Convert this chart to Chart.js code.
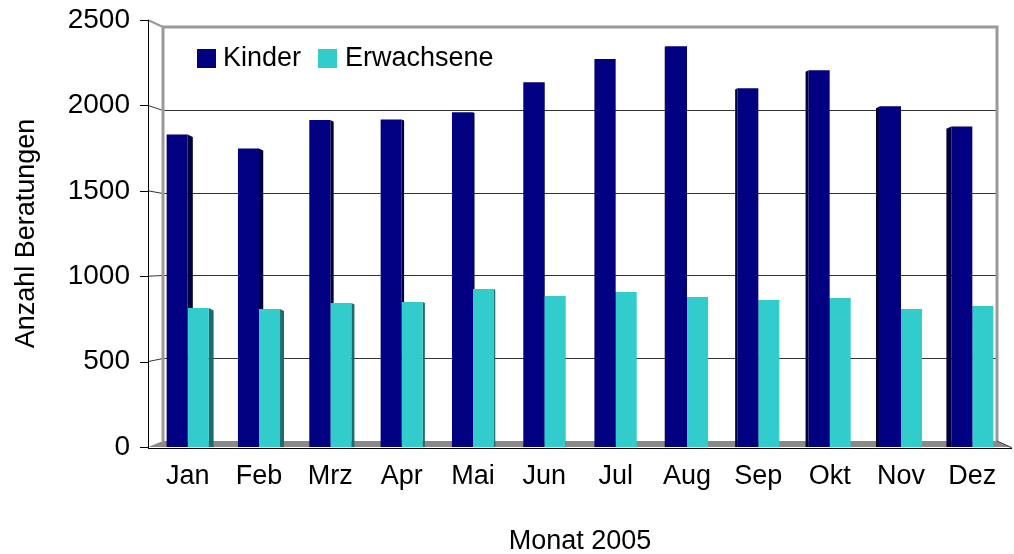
<!DOCTYPE html>
<html>
<head>
<meta charset="utf-8">
<script src="https://cdn.jsdelivr.net/npm/chart.js@4.4.0/dist/chart.umd.min.js"></script>
<style>
  html, body { margin: 0; padding: 0; background: #fff; }
  #wrap { width: 1014px; height: 554px; }
</style>
</head>
<body>
<div id="wrap"><canvas id="beratungenChart" width="1014" height="554"></canvas></div>
<script>
// Data
const months = ['Jan', 'Feb', 'Mrz', 'Apr', 'Mai', 'Jun', 'Jul', 'Aug', 'Sep', 'Okt', 'Nov', 'Dez'];
const kinder = [1830, 1748, 1914, 1918, 1960, 2136, 2271, 2347, 2100, 2206, 1995, 1877];
const erwachsene = [814, 808, 843, 849, 925, 884, 908, 878, 861, 872, 808, 825];
const yTicks = [0, 500, 1000, 1500, 2000, 2500];

const FONT = '"Liberation Sans", Arial, sans-serif';
const kinderColor = '#000080';
const kinderSide = '#00003c';
const erwColor = '#33cccc';
const erwSide = '#1d6b6b';

// 3D frame: back wall, floor, gridlines, axis line
const framePlugin = {
    id: 'frame3d',
    beforeDatasetsDraw(chart) {
        const { ctx, chartArea, scales } = chart;
        const y = scales.y;
        const fl = chartArea.left - 4, fr = chartArea.right + 4;
        const bl = chartArea.left + 11, br = chartArea.right - 11;
        const ft = chartArea.top, fb = chartArea.bottom;
        const bt = ft + 7, bb = fb - 6;
        const backY = v => bb - (bb - bt) * (v / 2500);

        ctx.save();
        // floor
        ctx.fillStyle = '#8a8a8a';
        ctx.beginPath();
        ctx.moveTo(fl, fb); ctx.lineTo(fr, fb); ctx.lineTo(br, bb); ctx.lineTo(bl, bb);
        ctx.closePath(); ctx.fill();

        // gridlines on back wall + connectors
        yTicks.forEach(v => {
            if (v === 0 || v === 2500) return;
            const by = Math.round(backY(v)) + 0.5;
            ctx.strokeStyle = '#333';
            ctx.lineWidth = 1;
            ctx.beginPath();
            ctx.moveTo(bl, by); ctx.lineTo(br, by);
            ctx.stroke();
            ctx.beginPath();
            ctx.moveTo(fl, y.getPixelForValue(v)); ctx.lineTo(bl, by);
            ctx.stroke();
        });

        // wall edges
        ctx.strokeStyle = '#9a9a9a';
        ctx.lineWidth = 3;
        ctx.beginPath();
        ctx.moveTo(bl, bb); ctx.lineTo(bl, bt); ctx.lineTo(br, bt); ctx.lineTo(br, bb);
        ctx.stroke();
        ctx.lineWidth = 2;
        ctx.beginPath();
        ctx.moveTo(fl, ft); ctx.lineTo(bl, bt);
        ctx.stroke();

        // y axis and tick marks
        ctx.strokeStyle = '#000';
        ctx.lineWidth = 1;
        ctx.beginPath();
        ctx.moveTo(fl + 0.5, ft); ctx.lineTo(fl + 0.5, fb + 1);
        yTicks.forEach(v => {
            const py = Math.round(y.getPixelForValue(v)) + 0.5;
            ctx.moveTo(fl - 8, py); ctx.lineTo(fl + 0.5, py);
        });
        ctx.stroke();

        // bottom edge
        ctx.beginPath();
        ctx.moveTo(fl, fb + 1.5); ctx.lineTo(fr, fb + 1.5);
        ctx.stroke();
        ctx.strokeStyle = '#444';
        ctx.beginPath();
        ctx.moveTo(br, bb); ctx.lineTo(fr, fb + 1);
        ctx.stroke();

        // bar side faces (perspective from the middle)
        const mid = (chartArea.left + chartArea.right) / 2;
        chart.data.datasets.forEach((ds, di) => {
            const meta = chart.getDatasetMeta(di);
            meta.data.forEach(bar => {
                const p = bar.getProps(['x', 'y', 'base', 'width'], true);
                const d = 0.0128 * (mid - p.x);
                const edge = d > 0 ? p.x + p.width / 2 : p.x - p.width / 2;
                ctx.fillStyle = di === 0 ? kinderSide : erwSide;
                ctx.beginPath();
                ctx.moveTo(edge, p.y);
                ctx.lineTo(edge + d, p.y + Math.abs(d) * 0.5);
                ctx.lineTo(edge + d, p.base);
                ctx.lineTo(edge, p.base);
                ctx.closePath();
                ctx.fill();
            });
        });
        ctx.restore();
    },
    afterDraw(chart) {
        // legend inside the plot
        const { ctx, chartArea } = chart;
        const lx = chartArea.left + 45, ly = chartArea.top + 29;
        ctx.save();
        ctx.font = '27px ' + FONT;
        ctx.textBaseline = 'middle';
        ctx.fillStyle = kinderColor;
        ctx.fillRect(lx, ly, 19, 19);
        ctx.fillStyle = '#000';
        ctx.fillText(chart.data.datasets[0].label, lx + 26, ly + 10);
        ctx.fillStyle = erwColor;
        ctx.fillRect(lx + 121, ly, 19, 19);
        ctx.fillStyle = '#000';
        ctx.fillText(chart.data.datasets[1].label, lx + 148, ly + 10);
        ctx.restore();
    }
};

const ctx = document.getElementById('beratungenChart').getContext('2d');
const chart = new Chart(ctx, {
    type: 'bar',
    data: {
        labels: months,
        datasets: [{
            label: 'Kinder',
            data: kinder,
            backgroundColor: kinderColor,
            borderWidth: 0
        }, {
            label: 'Erwachsene',
            data: erwachsene,
            backgroundColor: erwColor,
            borderWidth: 0
        }]
    },
    options: {
        responsive: false,
        animation: false,
        categoryPercentage: 0.59,
        barPercentage: 1.0,
        layout: {
            padding: { top: 20, right: 6, left: 0, bottom: 0 }
        },
        plugins: {
            legend: { display: false },
            tooltip: { enabled: false }
        },
        scales: {
            x: {
                grid: { display: false, drawTicks: false },
                border: { display: false },
                ticks: {
                    color: '#000',
                    font: { family: FONT, size: 27 },
                    padding: 13,
                    maxRotation: 0
                },
                title: {
                    display: true,
                    text: 'Monat 2005',
                    color: '#000',
                    font: { family: FONT, size: 27 },
                    padding: { top: 0, bottom: -4 }
                },
                afterFit(scale) {
                    scale.height = 107;
                    scale.paddingLeft = 0;
                    scale.paddingRight = 0;
                }
            },
            y: {
                min: 0,
                max: 2500,
                grid: { display: false, drawTicks: false },
                border: { display: false },
                ticks: {
                    stepSize: 500,
                    color: '#000',
                    font: { family: FONT, size: 28 },
                    padding: 22,
                    callback: v => String(v)
                },
                title: {
                    display: true,
                    text: 'Anzahl Beratungen',
                    color: '#000',
                    font: { family: FONT, size: 27 },
                    padding: { top: 10, bottom: 0 }
                },
                afterFit(scale) {
                    scale.width = 152;
                    scale.paddingTop = 0;
                    scale.paddingBottom = 0;
                }
            }
        }
    },
    plugins: [framePlugin]
});
</script>
</body>
</html>
